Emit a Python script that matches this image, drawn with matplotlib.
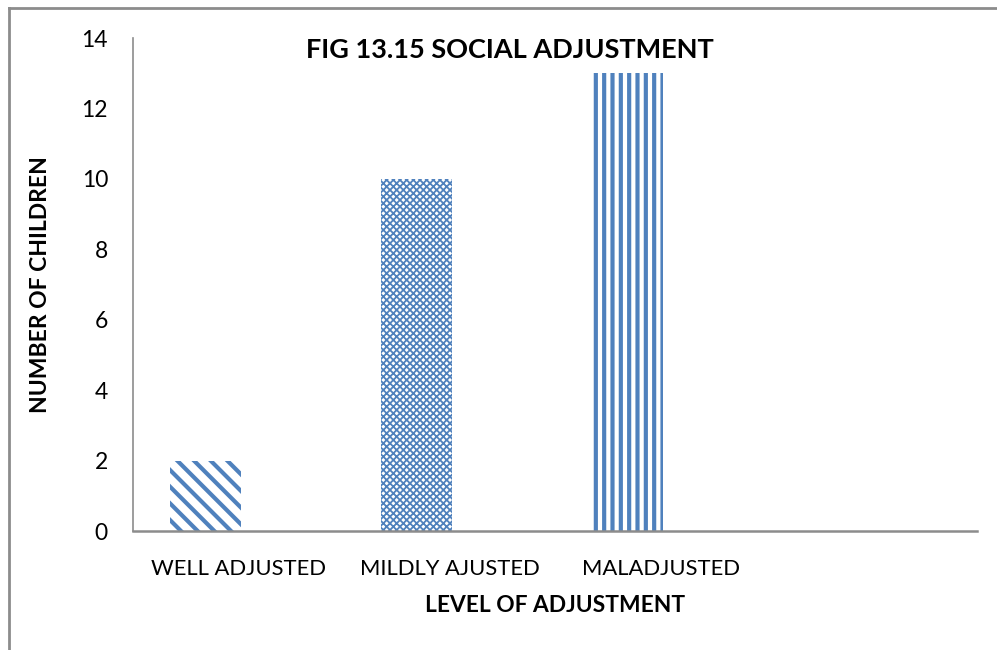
import matplotlib
matplotlib.use("Agg")
import matplotlib.pyplot as plt
from matplotlib.lines import Line2D

categories = ["WELL ADJUSTED", "MILDLY AJUSTED", "MALADJUSTED", ""]
children = [2, 10, 13, 0]
hatches = ["\\\\", "xxxxx", "||", ""]
hatch_widths = [3.0, 1.3, 3.0, 1.0]

bar_blue = "#4F81BD"
axis_gray = "#8C8C8C"

plt.rcParams["font.family"] = ["Lato", "DejaVu Sans"]

fig = plt.figure(figsize=(9.97, 6.5), dpi=100)
ax = fig.add_axes([0.1334, 0.183, 0.8466, 0.7585])

# frame around the chart area (only left/top visible in the reference)
fig.add_artist(Line2D([0.009, 0.009], [0.0, 0.988], color=axis_gray, lw=2.0))
fig.add_artist(Line2D([0.009, 1.0], [0.988, 0.988], color=axis_gray, lw=2.0))

xs = list(range(len(categories)))
bar_w = 0.336
for x, val, h, hw in zip(xs, children, hatches, hatch_widths):
    if val == 0:
        continue
    plt.rcParams["hatch.linewidth"] = hw
    # first series of a two-series cluster, so it sits left of the category centre
    ax.bar(x - 0.157, val, width=bar_w, facecolor="white", edgecolor=bar_blue,
           hatch=h, linewidth=0, zorder=2)

ax.set_xlim(-0.5, len(categories) - 0.5)
ax.set_ylim(0, 14)
ax.set_yticks(range(0, 15, 2))
ax.set_xticks(xs)
ax.set_xticklabels(categories)
ax.tick_params(axis="x", length=0, labelsize=15.8, pad=20)
ax.tick_params(axis="y", length=0, labelsize=16.5, pad=18)

for side in ["top", "right"]:
    ax.spines[side].set_visible(False)
ax.spines["left"].set_color(axis_gray)
ax.spines["left"].set_linewidth(1.2)
ax.spines["bottom"].set_color(axis_gray)
ax.spines["bottom"].set_linewidth(1.8)

ax.set_xlabel("LEVEL OF ADJUSTMENT", fontsize=16.4, fontweight="bold", labelpad=12)
ax.set_ylabel("NUMBER OF CHILDREN", fontsize=16.5, fontweight="bold", labelpad=22)
ax.text(0.447, 1.0, "FIG 13.15 SOCIAL ADJUSTMENT", transform=ax.transAxes,
        ha="center", va="top", fontsize=19.5, fontweight="bold")

fig.savefig("out.png", dpi=100)
